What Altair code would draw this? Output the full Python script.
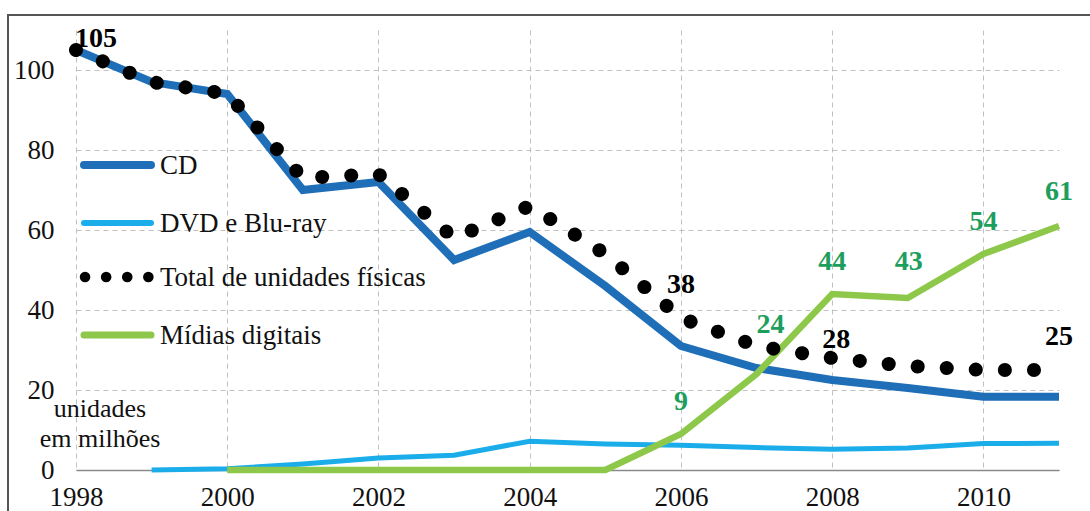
import altair as alt
import pandas as pd

years = list(range(1998, 2012))
cd = [105, 97, 94, 70, 72, 52.5, 59.5, 46, 31, 25.5, 22.5, 20.5, 18.3, 18.3]
dvd = [None, 0, 0.3, 1.5, 3, 3.7, 7.2, 6.5, 6.2, 5.6, 5.2, 5.5, 6.6, 6.7]
digital = [None, None, 0, 0, 0, 0, 0, 0, 9, 24, 44, 43, 54, 61]
total = [105, 97, 94, 73, 74, 58, 66, 54, 38, 31, 28, 26, 25, 25]

series_names = ["CD", "DVD e Blu-ray", "Total de unidades físicas", "Mídias digitais"]
x_ticks = [1998, 2000, 2002, 2004, 2006, 2008, 2010]
y_ticks = [0, 20, 40, 60, 80, 100]

black_label_years = [1998, 2006, 2008, 2011]
black_label_values = [105, 38, 28, 25]
green_label_years = [2006, 2007, 2008, 2009, 2010, 2011]
green_label_values = [9, 24, 44, 43, 54, 61]

FONT = "Liberation Serif, Times New Roman, serif"
C_CD = "#1f6fb8"
C_DVD = "#1badea"
C_DIG = "#8dc84a"
C_GLAB = "#1e9e5c"


def series_df(vals):
    d = pd.DataFrame({"year": years, "value": vals})
    return d.dropna()


x_enc = alt.X(
    "year:Q",
    scale=alt.Scale(domain=[1998, 2011], nice=False, zero=False),
    axis=alt.Axis(
        values=x_ticks, format="d", title=None, grid=True, gridDash=[5, 4],
        gridColor="#c0c0c0", gridWidth=1, ticks=False, tickSize=0,
        domainColor="#8a8a8a", domainWidth=1.5, labelFont=FONT, labelFontSize=27,
        labelColor="#111", labelBaseline="alphabetic", labelPadding=35,
        labelFlush=False, labelOverlap=False,
    ),
)
y_enc = alt.Y(
    "value:Q",
    scale=alt.Scale(domain=[0, 110], nice=False),
    axis=alt.Axis(
        values=y_ticks, title=None, grid=True, gridDash=[5, 4], gridColor="#c0c0c0",
        gridWidth=1, domain=False, ticks=False, tickSize=0, labelFont=FONT,
        labelFontSize=27, labelColor="#111", labelPadding=22, labelBaseline="middle",
    ),
)

cd_line = alt.Chart(series_df(cd)).mark_line(color=C_CD, strokeWidth=8).encode(x=x_enc, y=y_enc)
dvd_line = alt.Chart(series_df(dvd)).mark_line(color=C_DVD, strokeWidth=5).encode(x="year:Q", y="value:Q")
dig_line = alt.Chart(series_df(digital)).mark_line(color=C_DIG, strokeWidth=6.5).encode(x="year:Q", y="value:Q")
tot_line = alt.Chart(series_df(total)).mark_line(
    color="black", strokeWidth=14, strokeCap="round", strokeDash=[0.1, 29]
).encode(x="year:Q", y="value:Q")

blab = pd.DataFrame({"year": black_label_years, "value": black_label_values})
blab["t"] = blab["value"].astype(str)
glab = pd.DataFrame({"year": green_label_years, "value": green_label_values})
glab["t"] = glab["value"].astype(str)

def txt(df, color, dx, dy):
    return alt.Chart(df).mark_text(
        font=FONT, fontSize=28, fontWeight="bold", color=color, dx=dx, dy=dy,
        baseline="alphabetic", align="center",
    ).encode(x="year:Q", y="value:Q", text="t:N")

labels = [
    txt(blab[blab.year == 1998], "black", 20, -3),
    txt(blab[blab.year.isin([2006, 2011])], "black", 0, -25),
    txt(blab[blab.year == 2008], "black", 4, -10),
    txt(glab[glab.year.isin([2006, 2008, 2010])], C_GLAB, 0, -24),
    txt(glab[glab.year == 2009], C_GLAB, 1, -28),
    txt(glab[glab.year == 2011], C_GLAB, 0, -26),
    txt(glab[glab.year == 2007], C_GLAB, 14, -41),
]

one = pd.DataFrame({"a": [0]})

# legend (inside plot area)
leg_y = [135, 193, 247, 305]
leg_layers = []
leg_styles = [
    dict(color=C_CD, strokeWidth=8, strokeCap="round"),
    dict(color=C_DVD, strokeWidth=6, strokeCap="round"),
    None,
    dict(color=C_DIG, strokeWidth=7, strokeCap="round"),
]
for name, yy, st in zip(series_names, leg_y, leg_styles):
    if st is None:
        r = alt.Chart(one).mark_rule(color="black", strokeWidth=10.5, strokeCap="round",
                                     strokeDash=[0.1, 21]).encode(
            x=alt.value(9), x2=alt.value(73.5), y=alt.value(yy))
    else:
        r = alt.Chart(one).mark_rule(**st).encode(x=alt.value(8), x2=alt.value(75), y=alt.value(yy))
    t = alt.Chart(one).mark_text(font=FONT, fontSize=27, color="#111", align="left",
                                 baseline="middle", text=name).encode(
        x=alt.value(84), y=alt.value(yy + 1))
    leg_layers += [r, t]

unit_txt = alt.Chart(one).mark_text(
    font=FONT, fontSize=26, color="#111", align="center", baseline="alphabetic",
    text=["unidades", "em milhões"], lineHeight=30,
).encode(x=alt.value(24), y=alt.value(387))

frame_left = alt.Chart(one).mark_rule(color="#555", strokeWidth=2).encode(
    x=alt.value(-68), y=alt.value(-15), y2=alt.value(500))
frame_top = alt.Chart(one).mark_rule(color="#555", strokeWidth=2).encode(
    x=alt.value(-69), x2=alt.value(1040), y=alt.value(-15))

chart = alt.layer(
    cd_line, dvd_line, dig_line, tot_line, *labels, *leg_layers, unit_txt, frame_left, frame_top
).properties(
    width=983, height=440,
    autosize=alt.AutoSizeParams(type="none"),
    padding={"left": 76, "top": 30, "right": 31, "bottom": 41},
    background="white",
).configure_view(stroke=None)

chart.save("out.html", embed_options={"renderer": "svg", "actions": False})
